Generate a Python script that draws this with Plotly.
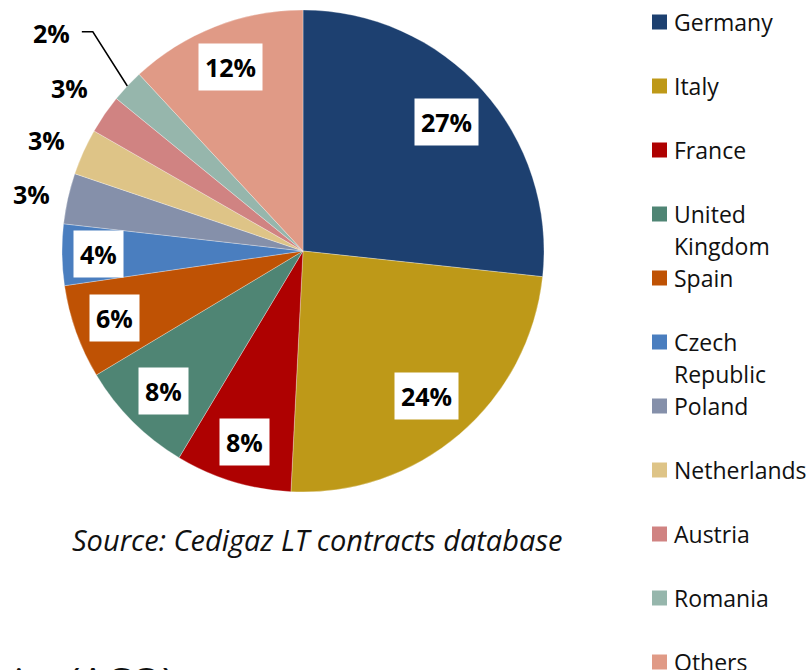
import numpy as np
import plotly.graph_objects as go

# ---- data ----
countries = ["Germany", "Italy", "France", "United Kingdom", "Spain", "Czech Republic",
             "Poland", "Netherlands", "Austria", "Romania", "Others"]
legend_lines = [["Germany"], ["Italy"], ["France"], ["United", "Kingdom"], ["Spain"],
                ["Czech", "Republic"], ["Poland"], ["Netherlands"], ["Austria"], ["Romania"], ["Others"]]
shares = [26.7, 24.1, 7.8, 7.8, 6.3, 4.1, 3.4, 3.1, 2.6, 2.2, 11.9]
colors = ["#1D4070", "#BE9918", "#AE0101", "#4F8574", "#BF5204", "#4A7EBF",
          "#8590AA", "#DEC487", "#D08382", "#96B6AC", "#E09A86"]
source_text = "Source: Cedigaz LT contracts database"
cut_title = "Annual Contract Quantity (ACQ)"

# ---- label styling (radius factors, inside/outside) ----
label_r = [0.80, 0.79, 0.83, 0.82, 0.83, 0.85, 1.15, 1.16, 1.18, 1.38, 0.82]
label_box = [True, True, True, True, True, True, False, False, False, False, True]
label_da = [0, 0, 0, 0, 0, 0, -0.8, -1.0, 0.3, -2.2, 0]

W, H = 810, 670
CX, CY, R = 303.0, 251.0, 241.0

fig = go.Figure()
fig.add_trace(go.Pie(
    labels=countries, values=shares, sort=False, direction="clockwise", rotation=0,
    marker=dict(colors=colors, line=dict(color="rgba(255,255,255,0.5)", width=0.6)),
    textinfo="none", hoverinfo="label+percent", showlegend=False,
    domain=dict(x=[(CX - R) / W, (CX + R) / W], y=[1 - (CY + R) / H, 1 - (CY - R) / H]),
))

vals = np.array(shares, dtype=float)
frac = vals / vals.sum()
cum = np.cumsum(frac)
mid = (cum - frac / 2) * 360.0


def to_paper(px, py):
    return px / W, 1 - py / H


def polar(angle_deg, r):
    a = np.radians(angle_deg)
    return CX + r * np.sin(a), CY - r * np.cos(a)


annotations = []
shapes = []
for i, v in enumerate(frac):
    txt = f"{round(v * 100)}%"
    px, py = polar(mid[i] + label_da[i], R * label_r[i])
    x, y = to_paper(px, py)
    ann = dict(x=x, y=y, xref="paper", yref="paper", text=f"<b>{txt}</b>", showarrow=False,
               font=dict(family="Open Sans", size=25, color="#000000"), xanchor="center", yanchor="middle")
    if label_box[i]:
        ann.update(bgcolor="#FFFFFF", borderpad=6)
    annotations.append(ann)

# leader line for the smallest slice (Romania)
ri = countries.index("Romania")
p0 = polar(mid[ri], R)
p1 = polar(mid[ri] + 3.0, R * 1.26)
p2 = (p1[0] - 11, p1[1])
pts = [to_paper(*p) for p in (p0, p1, p2)]
shapes.append(dict(type="path", xref="paper", yref="paper",
                   path=f"M {pts[0][0]} {pts[0][1]} L {pts[1][0]} {pts[1][1]} L {pts[2][0]} {pts[2][1]}",
                   line=dict(color="#000000", width=1.5)))

# legend (drawn manually to match spacing)
LX0, LSW, LY0, LDY, LLINE = 652, 15, 22, 64, 32
for i, lines in enumerate(legend_lines):
    yc = LY0 + LDY * i
    x0, y0 = to_paper(LX0, yc - LSW / 2)
    x1, y1 = to_paper(LX0 + LSW, yc + LSW / 2)
    shapes.append(dict(type="rect", xref="paper", yref="paper", x0=x0, x1=x1, y0=y1, y1=y0,
                       fillcolor=colors[i], line=dict(width=0)))
    for j, ln in enumerate(lines):
        tx, ty = to_paper(LX0 + LSW + 5, yc + LLINE * j)
        annotations.append(dict(x=tx, y=ty, xref="paper", yref="paper", text=ln, showarrow=False,
                                xanchor="left", yanchor="middle",
                                font=dict(family="Open Sans", size=23, color="#111111")))

sx, sy = to_paper(317, 539)
annotations.append(dict(x=sx, y=sy, xref="paper", yref="paper", text=f"<i>{source_text}</i>",
                        showarrow=False, xanchor="center", yanchor="middle",
                        font=dict(family="Open Sans", size=29, color="#111111")))

tx, ty = to_paper(176, 652)
annotations.append(dict(x=tx, y=ty, xref="paper", yref="paper", text=cut_title, showarrow=False,
                        xanchor="right", yanchor="top",
                        font=dict(family="Open Sans", size=40, color="#111111")))

fig.update_layout(width=W, height=H, margin=dict(l=0, r=0, t=0, b=0),
                  paper_bgcolor="#FFFFFF", plot_bgcolor="#FFFFFF",
                  annotations=annotations, shapes=shapes, showlegend=False)

fig.write_html("out.html", config={"displayModeBar": False},
               post_script="document.body.style.margin='0';document.body.style.overflow='hidden';")
